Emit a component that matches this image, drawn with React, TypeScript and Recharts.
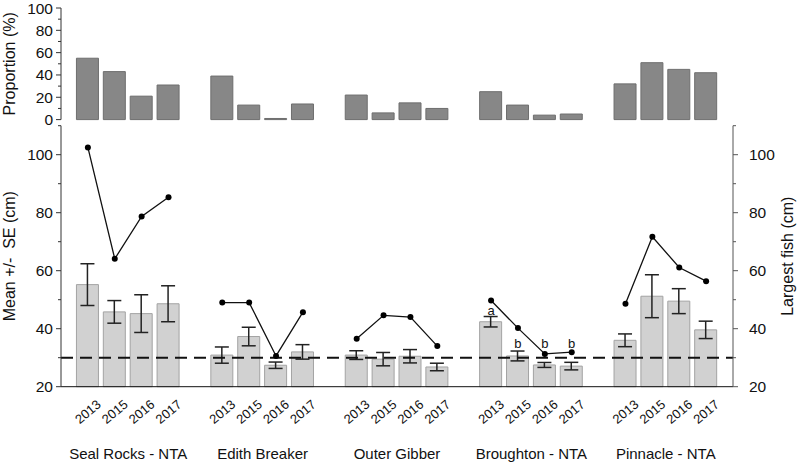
import React from 'react'
import { BarChart, ComposedChart, Bar, Line, XAxis, YAxis, ErrorBar, ReferenceLine, LabelList } from 'recharts'

const FONT = '"Liberation Sans", Arial, sans-serif'

const sites = ['Seal Rocks - NTA', 'Edith Breaker', 'Outer Gibber', 'Broughton - NTA', 'Pinnacle - NTA']
const years = ['2013', '2015', '2016', '2017']

// proportion (%) per site, per year
const proportion = [
  [55, 43, 21, 31],
  [39, 13, 1, 14],
  [22, 6, 15, 10],
  [25, 13, 4, 5],
  [32, 51, 45, 42],
]

// mean length (cm) and its SE
const meanLength = [
  [55.2, 45.8, 45.2, 48.6],
  [30.9, 37.3, 27.4, 32.0],
  [30.9, 29.5, 30.5, 26.8],
  [42.4, 30.6, 27.5, 27.1],
  [36.0, 51.2, 49.5, 39.6],
]
const meanSE = [
  [7.2, 3.9, 6.5, 6.2],
  [2.8, 3.2, 1.1, 2.5],
  [1.5, 2.3, 2.3, 1.3],
  [1.8, 1.7, 0.85, 1.3],
  [2.2, 7.4, 4.3, 3.0],
]

// largest fish (cm)
const largest = [
  [102.5, 64.1, 78.7, 85.3],
  [49.0, 49.0, 30.6, 45.7],
  [36.5, 44.6, 44.0, 34.0],
  [49.7, 40.2, 31.3, 31.9],
  [48.6, 71.7, 61.1, 56.4],
]

// significance letters and the height (cm) they sit at
const letters = [
  ['', '', '', ''],
  ['', '', '', ''],
  ['', '', '', ''],
  ['a', 'b', 'b', 'b'],
  ['', '', '', ''],
]
const letterAt = [
  [0, 0, 0, 0],
  [0, 0, 0, 0],
  [0, 0, 0, 0],
  [44.2, 32.5, 32.5, 32.5],
  [0, 0, 0, 0],
]

const legalSize = 30
const propTicks = [0, 10, 20, 30, 40, 50, 60, 70, 80, 90, 100]
const lenTicks = [20, 30, 40, 50, 60, 70, 80, 90, 100, 110]

// one slot per bar plus an empty slot between sites
const rows: any[] = []
sites.forEach((site, s) => {
  years.forEach((yr, i) => {
    const sig = letters[s][i]
    rows.push({
      key: `${s}-${yr}`,
      year: yr,
      pos: s * 5 + i + 1,
      prop: proportion[s][i],
      mean: meanLength[s][i],
      se: meanSE[s][i],
      largest: largest[s][i],
      sig: sig || undefined,
      sigTop: sig ? letterAt[s][i] : null,
    })
  })
  if (s < sites.length - 1) {
    rows.push({ key: `gap-${s}`, year: '', pos: s * 5 + 5, prop: null, mean: null, se: null, largest: null, sigTop: null })
  }
})
const yearOf: Record<string, string> = {}
rows.forEach((r) => { yearOf[r.key] = r.year })
const siteTicks = sites.map((_, s) => s * 5 + 2.5)

const PLOT_W = 672
const PAD = PLOT_W / 50

const LeftTick = ({ x, y, payload }: any) => {
  const ax = x + 8
  const major = payload.value % 20 === 0
  return (
    <g>
      <line x1={ax - (major ? 5 : 3)} x2={ax} y1={y} y2={y} stroke="#333" strokeWidth={1} />
      {major && (
        <text x={ax - 8} y={y} textAnchor="end" dominantBaseline="central" fontSize={15.5} fill="#111" fontFamily={FONT}>
          {payload.value}
        </text>
      )}
    </g>
  )
}

const RightTick = ({ x, y, payload }: any) => {
  const ax = x - 8
  const major = payload.value % 20 === 0
  return (
    <g>
      <line x1={ax} x2={ax + (major ? 5 : 3)} y1={y} y2={y} stroke="#555" strokeWidth={1} />
      {major && (
        <text x={ax + 16} y={y} textAnchor="start" dominantBaseline="central" fontSize={15.5} fill="#111" fontFamily={FONT}>
          {payload.value}
        </text>
      )}
    </g>
  )
}

const YearTick = ({ x, y, payload }: any) => {
  const label = yearOf[payload.value]
  if (!label) return null
  return (
    <text
      x={0}
      y={0}
      textAnchor="middle"
      dominantBaseline="central"
      fontSize={13}
      fill="#111"
      fontFamily={FONT}
      style={{ transform: `translate(${x}px, ${y + 25}px) rotate(-40deg)` }}
    >
      {label}
    </text>
  )
}

const SiteTick = ({ x, y, payload }: any) => {
  const name = sites[Math.floor(payload.value / 5)]
  return (
    <text x={x} y={y + 22} textAnchor="middle" fontSize={15} fill="#111" fontFamily={FONT}>
      {name}
    </text>
  )
}

const Letter = ({ x, y, value }: any) => {
  if (!value) return null
  return (
    <text x={x} y={y - 2} textAnchor="middle" fontSize={13} fill="#111" fontFamily={FONT}>
      {value}
    </text>
  )
}

export default function App() {
  return (
    <div style={{ position: 'absolute', left: 0, top: 0, width: 797, height: 462, background: '#fff' }}>
      <div style={{ position: 'absolute', left: 0, top: 0 }}>
        <BarChart width={797} height={132} data={rows} margin={{ top: 8, right: 64, bottom: 12.4, left: 0 }} barSize={22}>
          <XAxis dataKey="key" hide padding={{ left: PAD, right: PAD }} />
          <YAxis
            domain={[0, 100]}
            ticks={propTicks}
            interval={0}
            width={61}
            tickSize={5}
            tickMargin={3}
            tickLine={false}
            axisLine={{ stroke: '#333' }}
            tick={<LeftTick />}
            label={{ value: 'Proportion (%)', angle: -90, position: 'insideLeft', offset: 9, style: { textAnchor: 'middle', fontSize: 16, fontFamily: FONT, fill: '#111' } }}
          />
          <Bar dataKey="prop" fill="#878787" stroke="#6e6e6e" strokeWidth={1} isAnimationActive={false} />
        </BarChart>
      </div>
      <div style={{ position: 'absolute', left: 0, top: 120 }}>
        <ComposedChart width={797} height={342} data={rows} margin={{ top: 5.7, right: 0, bottom: 0, left: 0 }} barSize={22}>
          <XAxis
            dataKey="key"
            padding={{ left: PAD, right: PAD }}
            interval={0}
            height={50}
            tickSize={0}
            tickMargin={0}
            tickLine={false}
            axisLine={{ stroke: '#111' }}
            tick={<YearTick />}
          />
          <XAxis
            xAxisId="site"
            type="number"
            dataKey="pos"
            domain={[0, 25]}
            allowDataOverflow
            ticks={siteTicks}
            interval={0}
            height={25.3}
            tickSize={0}
            tickMargin={0}
            tickLine={false}
            axisLine={false}
            tick={<SiteTick />}
          />
          <YAxis
            yAxisId="left"
            domain={[20, 110]}
            ticks={lenTicks}
            interval={0}
            width={61}
            tickSize={5}
            tickMargin={3}
            tickLine={false}
            axisLine={{ stroke: '#333' }}
            tick={<LeftTick />}
            label={{ value: 'Mean +/-\u00a0 SE (cm)', angle: -90, position: 'insideLeft', offset: 9, style: { textAnchor: 'middle', fontSize: 16, fontFamily: FONT, fill: '#111' } }}
          />
          <YAxis
            yAxisId="right"
            orientation="right"
            domain={[20, 110]}
            ticks={lenTicks}
            interval={0}
            width={64}
            tickSize={5}
            tickMargin={3}
            tickLine={false}
            axisLine={{ stroke: '#555' }}
            tick={<RightTick />}
            label={{ value: 'Largest fish (cm)', angle: -90, position: 'insideRight', offset: 10, style: { textAnchor: 'middle', fontSize: 16, fontFamily: FONT, fill: '#111' } }}
          />
          <Bar yAxisId="left" dataKey="mean" fill="#d1d1d1" stroke="#a3a3a3" strokeWidth={1} isAnimationActive={false}>
            <ErrorBar dataKey="se" width={7} stroke="#222" strokeWidth={1.5} direction="y" />
          </Bar>
          <ReferenceLine yAxisId="left" y={legalSize} stroke="#111" strokeWidth={2} strokeDasharray="12 7" />
          <Line
            yAxisId="right"
            dataKey="largest"
            stroke="#111"
            strokeWidth={1.3}
            dot={{ r: 3, fill: '#000', stroke: '#000', strokeWidth: 0 }}
            activeDot={false}
            connectNulls={false}
            isAnimationActive={false}
          />
          <Line yAxisId="left" dataKey="sigTop" stroke="none" dot={false} activeDot={false} legendType="none" isAnimationActive={false}>
            <LabelList dataKey="sig" content={<Letter />} />
          </Line>
        </ComposedChart>
      </div>
    </div>
  )
}
